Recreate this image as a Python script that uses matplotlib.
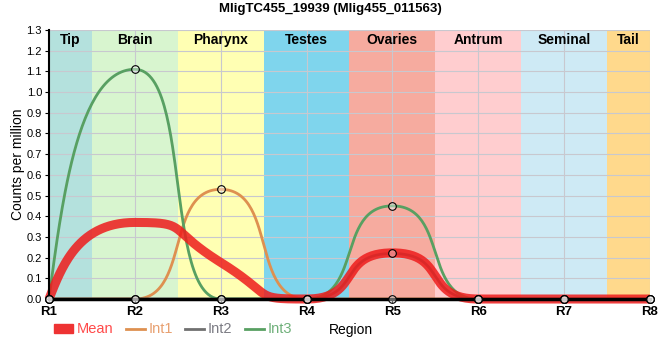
import numpy as np
import matplotlib
matplotlib.use("Agg")
import matplotlib.pyplot as plt
from matplotlib.lines import Line2D
from matplotlib.patches import Patch

title = "MligTC455_19939 (Mlig455_011563)"
regions = ["R1", "R2", "R3", "R4", "R5", "R6", "R7", "R8"]
mean = [0.0, 0.37, 0.177, 0.0, 0.223, 0.0, 0.0, 0.0]
int1 = [0.0, 0.0, 0.53, 0.0, 0.0, 0.0, 0.0, 0.0]
int2 = [0.0, 0.0, 0.0, 0.0, 0.22, 0.0, 0.0, 0.0]
int3 = [0.0, 1.11, 0.0, 0.0, 0.45, 0.0, 0.0, 0.0]

band_names = ["Tip", "Brain", "Pharynx", "Testes", "Ovaries", "Antrum", "Seminal", "Tail"]
band_edges = [0, 0.5, 1.5, 2.5, 3.5, 4.5, 5.5, 6.5, 7]
band_colors = ["#b4e1dd", "#d8f5cf", "#ffffb3", "#7fd5ed", "#f6ab9f", "#ffcdcf", "#ceeaf5", "#ffd98c"]


def smooth(y, c=0.65, k=1.4, n=60):
    # bezier curve through the points, horizontal-ish handles
    y = np.asarray(y, float)
    m = len(y)
    slope = np.zeros(m)
    for i in range(1, m - 1):
        a, b = y[i] - y[i - 1], y[i + 1] - y[i]
        if a * b > 0:
            slope[i] = k * (y[i + 1] - y[i - 1]) / 2
    xs, ys = [], []
    t = np.linspace(0, 1, n)
    for i in range(m - 1):
        p0 = np.array([i, y[i]])
        p3 = np.array([i + 1, y[i + 1]])
        p2 = np.array([i + 1 - c, y[i + 1] - c * slope[i + 1]])
        p1 = np.array([i + c, y[i] + c * slope[i]])
        if i == 0:
            p1 = p0 + 0.45 * (p2 - p0)
        if i == m - 2:
            p2 = p3 + 0.45 * (p1 - p3)
        b = ((1 - t) ** 3)[:, None] * p0 + (3 * t * (1 - t) ** 2)[:, None] * p1 \
            + (3 * t ** 2 * (1 - t))[:, None] * p2 + (t ** 3)[:, None] * p3
        xs.append(b[:, 0])
        ys.append(b[:, 1])
    return np.concatenate(xs), np.concatenate(ys)


fig = plt.figure(figsize=(6.6, 3.6), dpi=100)
ax = fig.add_axes([0.0742, 0.1694, 0.9106, 0.7473])
x = np.arange(len(regions))

for i, name in enumerate(band_names):
    ax.axvspan(band_edges[i], band_edges[i + 1], color=band_colors[i], lw=0, zorder=0)
    ax.text((band_edges[i] + band_edges[i + 1]) / 2, 1.25, name, ha="center", va="center",
            fontsize=10, fontweight="bold", family="Liberation Sans", zorder=5)

yt = np.arange(0, 1.31, 0.1)
ax.set_yticks(yt)
ax.grid(True, color="#c8c8cf", lw=0.8, zorder=1)
ax.set_axisbelow(False)

series = [(int1, "#de9050"), (int2, "#707070"), (int3, "#58a062")]
for vals, col in series:
    xs, ys = smooth(vals)
    ax.plot(xs, ys, color=col, lw=2, zorder=3)

xs, ys = smooth(mean)
ax.plot(xs, ys, color="#ee1c1c", lw=6.5, alpha=0.85, zorder=4, solid_capstyle="butt", clip_on=False)

for vals, col in series:
    ax.plot(x, vals, ls="none", marker="o", ms=5.5, mfc=(1, 1, 1, 0.4), mec="black", mew=0.8,
            zorder=8, clip_on=False)

ax.set_xlim(0, 7)
ax.set_ylim(0, 1.3)
ax.set_xticks(x)
ax.set_xticklabels(regions, fontsize=9.5, fontweight="bold", family="Liberation Sans")
ax.set_yticklabels(["%.1f" % v for v in yt], fontsize=8, family="Liberation Sans")
ax.tick_params(axis="both", length=3, width=0.8, pad=2)
for side in ["top", "right"]:
    ax.spines[side].set_visible(False)
ax.spines["left"].set_linewidth(1.5)
ax.spines["bottom"].set_linewidth(2.5)
ax.spines["left"].set_zorder(7)
ax.spines["bottom"].set_zorder(7)
ax.set_ylabel("Counts per million", fontsize=10, family="Liberation Sans", labelpad=1)

fig.text(0.5, 0.975, title, ha="center", va="center", fontsize=9.5, fontweight="bold",
         family="Liberation Sans")
fig.text(0.532, 0.082, "Region", ha="center", va="center", fontsize=10, family="Liberation Sans")

handles = [Patch(color="#ee3333"), Line2D([], [], color="#de9050", lw=2),
           Line2D([], [], color="#707070", lw=2), Line2D([], [], color="#58a062", lw=2)]
labels = ["Mean", "Int1", "Int2", "Int3"]
leg = fig.legend(handles, labels, loc="center left", bbox_to_anchor=(0.082, 0.085), ncol=4,
                 frameon=False, handlelength=1.3, handleheight=0.55, handletextpad=0.25,
                 columnspacing=0.85, borderaxespad=0, borderpad=0,
                 prop={"family": "Liberation Sans", "size": 10.5})
for txt, col in zip(leg.get_texts(), ["#ff4a4a", "#e8a070", "#7c7c84", "#6fb07a"]):
    txt.set_color(col)

fig.savefig("out.png", dpi=100)
